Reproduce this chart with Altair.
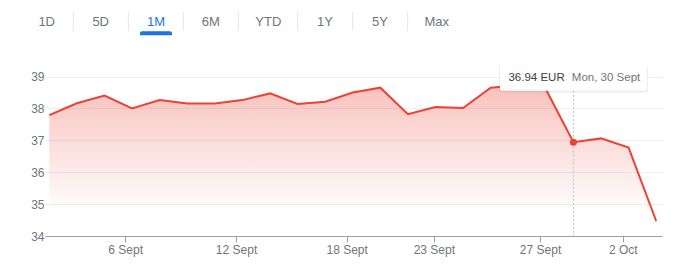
import altair as alt
import pandas as pd

# ---------------- data ----------------
dates = ["2024-09-03", "2024-09-04", "2024-09-05", "2024-09-06", "2024-09-09",
         "2024-09-10", "2024-09-11", "2024-09-12", "2024-09-13", "2024-09-16",
         "2024-09-17", "2024-09-18", "2024-09-19", "2024-09-20", "2024-09-23",
         "2024-09-24", "2024-09-25", "2024-09-26", "2024-09-27", "2024-09-30",
         "2024-10-01", "2024-10-02", "2024-10-03"]
prices = [37.79, 38.16, 38.40, 38.00, 38.26,
          38.15, 38.15, 38.26, 38.47, 38.14,
          38.21, 38.50, 38.65, 37.82, 38.04,
          38.01, 38.65, 38.72, 38.60, 36.94,
          37.06, 36.77, 34.47]
tick_labels = ["6 Sept", "12 Sept", "18 Sept", "23 Sept", "27 Sept", "2 Oct"]
tick_pos = [2.75, 6.77, 10.78, 13.94, 17.79, 20.79]
y_ticks = [34, 35, 36, 37, 38, 39]
buttons = ["1D", "5D", "1M", "6M", "YTD", "1Y", "5Y", "Max"]
active_button = "1M"
selected_date = "2024-09-30"
currency = "EUR"

# ---------------- layout ----------------
W, H = 700, 266
PAD_L, PAD_T = 45, 60
PLOT_W, PLOT_H = 616.7, 176
button_x_abs = [46.7, 100.7, 156, 210.7, 268.3, 325, 380, 436.7]
sep_x_abs = [73.3, 128.3, 183.3, 238.3, 297.7, 352.7, 407.7]

RED = "#ea4335"
GRAY_TXT = "#70757a"
FONT = "Liberation Sans"

df = pd.DataFrame({"date": pd.to_datetime(dates), "price": prices})
df["i"] = range(len(df))

sel_ts = pd.Timestamp(selected_date)
sel_row = df[df["date"] == sel_ts].iloc[0]
month_abbr = {9: "Sept", 10: "Oct"}
sel_df = pd.DataFrame({
    "i": [int(sel_row["i"])],
    "price": [float(sel_row["price"])],
    "ptxt": [f"{sel_row['price']:.2f} {currency}"],
    "dtxt": [f"{sel_ts.strftime('%a')}, {sel_ts.day} {month_abbr[sel_ts.month]}"],
})

# tick label expression
mids = [(tick_pos[k] + tick_pos[k + 1]) / 2 for k in range(len(tick_pos) - 1)]
expr = f"'{tick_labels[-1]}'"
for k in range(len(mids) - 1, -1, -1):
    expr = f"datum.value < {mids[k]} ? '{tick_labels[k]}' : ({expr})"

x_scale = alt.Scale(domain=[-0.156, 22.2], nice=False, zero=False)
y_scale = alt.Scale(domain=[34, 34 + PLOT_H / 31.9], nice=False, zero=False)

x_axis = alt.Axis(values=tick_pos, labelExpr=expr, title=None, grid=False,
                  domainColor="#9aa0a6", tickColor="#9aa0a6", tickSize=6,
                  labelColor=GRAY_TXT, labelFont=FONT, labelFontSize=12,
                  labelPadding=2)
y_axis = alt.Axis(values=y_ticks, tickCount=len(y_ticks), labelOverlap=False,
                  title=None, domain=False, ticks=False,
                  gridColor="#eeeff1", labelColor=GRAY_TXT, labelFont=FONT,
                  labelFontSize=12, labelPadding=1)

x_enc = alt.X("i:Q", scale=x_scale, axis=x_axis)
y_enc = alt.Y("price:Q", scale=y_scale, axis=y_axis)

base = alt.Chart(df)

area = base.mark_area(
    color=alt.Gradient(
        gradient="linear", x1=0, x2=0, y1=0, y2=1,
        stops=[alt.GradientStop(color="rgba(234,67,53,0.33)", offset=0),
               alt.GradientStop(color="rgba(234,67,53,0.0)", offset=0.85)]),
).encode(x=x_enc, y=y_enc, y2=alt.datum(34))

line = base.mark_line(color=RED, strokeWidth=2).encode(x=x_enc, y=y_enc)

sel = alt.Chart(sel_df)
vrule = sel.mark_rule(color="#bdc1c6", strokeDash=[2, 2], strokeWidth=1).encode(
    x=x_enc, y=alt.value(90.7 - PAD_T), y2=alt.value(PLOT_H))
dot = sel.mark_circle(color=RED, size=50, opacity=1).encode(x=x_enc, y=y_enc)

shadow = sel.mark_rect(color="#000000", opacity=0.07, xOffset=-74.5, x2Offset=74.5,
                       cornerRadius=2).encode(
    x=x_enc, x2="i:Q", y=alt.value(65 - PAD_T), y2=alt.value(92.5 - PAD_T))
box = sel.mark_rect(color="#ffffff", xOffset=-73.5, x2Offset=73.5, cornerRadius=2).encode(
    x=x_enc, x2="i:Q", y=alt.value(65 - PAD_T), y2=alt.value(90.7 - PAD_T))
ptxt = sel.mark_text(align="left", baseline="middle", dx=-65, font=FONT, fontSize=11.5,
                     color="#3c4043").encode(x=x_enc, y=alt.value(77.5 - PAD_T), text="ptxt:N")
dtxt = sel.mark_text(align="left", baseline="middle", dx=-1.6, font=FONT, fontSize=11.5,
                     color=GRAY_TXT).encode(x=x_enc, y=alt.value(77.5 - PAD_T), text="dtxt:N")

# range buttons
btn_df = pd.DataFrame({"label": buttons, "bx": [v - PAD_L for v in button_x_abs]})
btn_df["active"] = btn_df["label"] == active_button
btn = alt.Chart(btn_df).mark_text(baseline="middle", align="center", font=FONT,
                                  fontSize=13).encode(
    x=alt.X("bx:Q", scale=None),
    y=alt.value(21.7 - PAD_T),
    text="label:N",
    color=alt.condition("datum.active", alt.value("#1a73e8"), alt.value(GRAY_TXT)),
)
sep_df = pd.DataFrame({"sx": [v - PAD_L for v in sep_x_abs]})
seps = alt.Chart(sep_df).mark_rule(color="#e3e4e6", strokeWidth=1).encode(
    x=alt.X("sx:Q", scale=None), y=alt.value(12 - PAD_T), y2=alt.value(30.7 - PAD_T))
ul_idx = buttons.index(active_button)
ul_df = pd.DataFrame({"x0": [button_x_abs[ul_idx] - 16 - PAD_L],
                      "x1": [button_x_abs[ul_idx] + 16 - PAD_L]})
underline = alt.Chart(ul_df).mark_rect(color="#1a73e8", cornerRadiusTopLeft=3,
                                       cornerRadiusTopRight=3).encode(
    x=alt.X("x0:Q", scale=None), x2="x1:Q",
    y=alt.value(31.3 - PAD_T), y2=alt.value(35.3 - PAD_T))

chart = alt.layer(area, line, vrule, dot, shadow, box, ptxt, dtxt, seps, btn, underline).properties(
    width=PLOT_W, height=PLOT_H,
    padding={"left": PAD_L, "top": PAD_T, "right": W - PAD_L - PLOT_W, "bottom": H - PAD_T - PLOT_H},
    autosize="none", background="#ffffff",
).configure_view(stroke=None)

chart.save("out.html", embed_options={"renderer": "svg", "actions": False})
